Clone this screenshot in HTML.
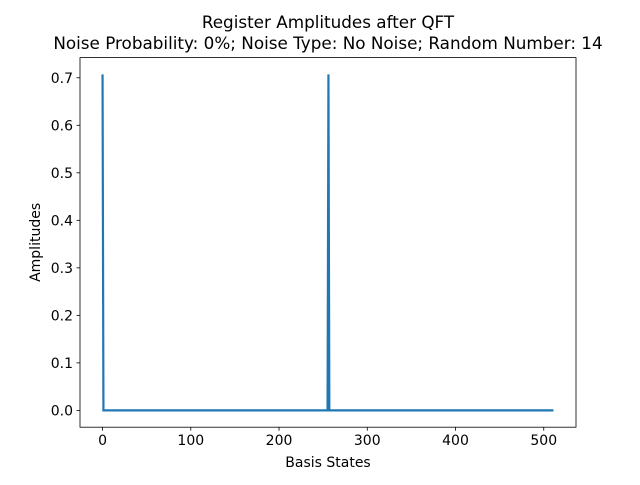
<!DOCTYPE html>
<html><head><meta charset="utf-8"><style>
body{margin:0;background:#fff;}
svg{font-family:"DejaVu Sans","Liberation Sans",sans-serif;}
</style></head><body>
<svg id="chart" width="640" height="480" viewBox="0 0 640 480" xmlns="http://www.w3.org/2000/svg">
<rect width="640" height="480" fill="#fff"/>
<text x="328" y="28" font-size="16.8" text-anchor="middle">Register Amplitudes after QFT</text>
<text x="328" y="49" font-size="16.8" text-anchor="middle">Noise Probability: 0%; Noise Type: No Noise; Random Number: 14</text>
<g id="plot"></g>
<text x="328" y="467" font-size="14" text-anchor="middle">Basis States</text>
<text transform="translate(40,242.4) rotate(-90)" font-size="14" text-anchor="middle">Amplitudes</text>
</svg>
<script>
const states=[0,1,255,256,257,511];
const amplitudes=[0.7071,0,0,0.7071,0,0];
const xTicks=[0,100,200,300,400,500];
const yTicks=[0.0,0.1,0.2,0.3,0.4,0.5,0.6,0.7];
const L=80,R=576,T=57.6,B=427.2;
const xmin=-25.55,xmax=536.55,ymin=-0.03536,ymax=0.74246;
const sx=v=>L+(v-xmin)/(xmax-xmin)*(R-L);
const sy=v=>B-(v-ymin)/(ymax-ymin)*(B-T);
const g=document.getElementById('plot');
const NS='http://www.w3.org/2000/svg';
function mk(t,a){const e=document.createElementNS(NS,t);for(const k in a)e.setAttribute(k,a[k]);g.appendChild(e);return e;}
const pts=states.map((s,i)=>sx(s)+','+sy(amplitudes[i])).join(' ');
const line=mk('polyline',{points:pts,fill:'none',stroke:'#1f77b4','stroke-width':2.2,'stroke-linejoin':'miter'});


xTicks.forEach(v=>{
 const x=sx(v);
 const tk=mk('line',{x1:x,x2:x,y1:B,y2:B+3.5,stroke:'#000','stroke-width':0.8});
 
 
 const t=mk('text',{x:x,y:B+18,'font-size':14,'text-anchor':'middle'});
 t.textContent=v;
 
 
});
yTicks.forEach(v=>{
 const y=sy(v);
 const tk=mk('line',{x1:L-3.5,x2:L,y1:y,y2:y,stroke:'#000','stroke-width':0.8});
 
 
 const t=mk('text',{x:L-7,y:y+5,'font-size':14,'text-anchor':'end'});
 t.textContent=v.toFixed(1);
 
 
});
const fr=mk('rect',{x:L,y:T,width:R-L,height:B-T,fill:'none',stroke:'#000','stroke-width':0.8});


</script>
</body></html>
